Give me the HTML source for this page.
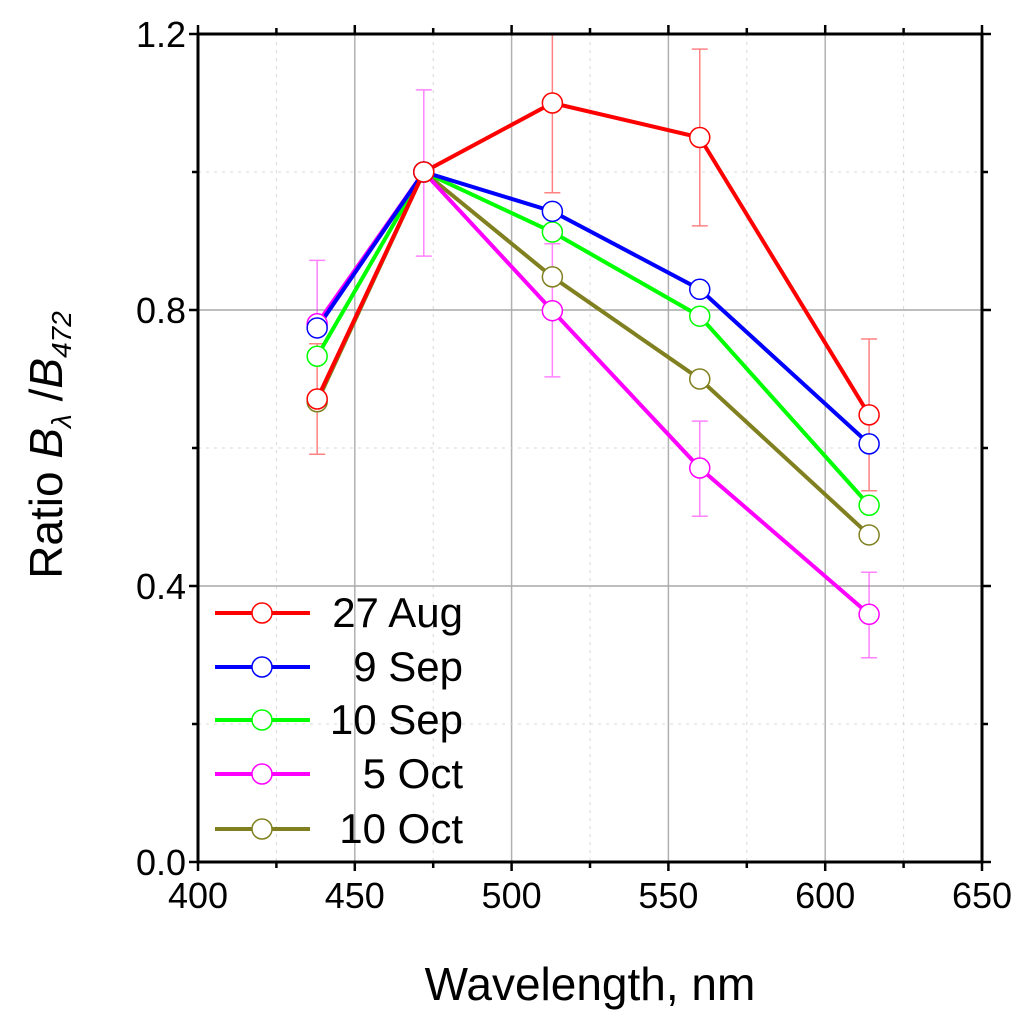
<!DOCTYPE html>
<html><head><meta charset="utf-8"><style>
body{margin:0;background:#fff}
svg{display:block;font-family:"Liberation Sans",Arial,sans-serif}
</style></head><body>
<svg id="chart" width="1033" height="1024" viewBox="0 0 1033 1024" xmlns="http://www.w3.org/2000/svg">
<g id="grid"></g>
<g id="series"></g>
<g id="axes"></g>
<g id="legend"></g>
<text x="590" y="1000" font-size="46" text-anchor="middle" fill="#000">Wavelength, nm</text>
<text transform="translate(62,445) rotate(-90)" font-size="46" text-anchor="middle" fill="#000">Ratio <tspan font-style="italic">B</tspan><tspan font-size="28" dy="9" font-style="italic">λ</tspan><tspan dy="-9"> /</tspan><tspan font-style="italic">B</tspan><tspan font-size="28" dy="9" font-style="italic">472</tspan></text>
</svg>
<script>
const wavelengths=[438,472,513,560,614];
const seriesNames=["27 Aug","9 Sep","10 Sep","5 Oct","10 Oct"];
const seriesColors=["#ff0000","#0000ff","#00ff00","#ff00ff","#808020"];
const aug27=[0.671,1.0,1.10,1.05,0.648];
const sep9=[0.774,1.0,0.943,0.83,0.606];
const sep10=[0.733,1.0,0.913,0.791,0.517];
const oct5=[0.78,1.0,0.799,0.571,0.359];
const oct10=[0.667,1.0,0.848,0.70,0.474];
const aug27Err=[0.08,null,0.13,0.128,0.11];
const oct5ErrLow=[null,0.122,0.096,0.07,0.063];
const oct5ErrHigh=[0.092,0.119,0.097,0.068,0.061];
const xTicks=[400,450,500,550,600,650];
const yTicks=[0.0,0.4,0.8,1.2];
const yTickLabels=["0.0","0.4","0.8","1.2"];
const NS="http://www.w3.org/2000/svg";
const X0=198,X1=982,Y0=862,Y1=34;
const xs=v=>X0+(v-400)/(250)*(X1-X0);
const ys=v=>Y0-(v/1.2)*(Y0-Y1);
function mk(tag,attrs,parent){const e=document.createElementNS(NS,tag);for(const k in attrs)e.setAttribute(k,attrs[k]);parent.appendChild(e);return e;}
const grid=document.getElementById('grid'),axes=document.getElementById('axes'),ser=document.getElementById('series'),leg=document.getElementById('legend');
for(let v=425;v<650;v+=25){const major=(v%50===0);const l=mk('line',{x1:xs(v),x2:xs(v),y1:Y1,y2:Y0,stroke:major?'#b0b0b0':'#d8d8d8','stroke-width':major?1.5:1,'stroke-dasharray':major?'':'3,5'},grid);
}
for(let i=1;i<6;i++){const v=i*0.2;const major=(i%2===0);const l=mk('line',{x1:X0,x2:X1,y1:ys(v),y2:ys(v),stroke:major?'#a8a8a8':'#d8d8d8','stroke-width':major?1.5:1,'stroke-dasharray':major?'':'3,5'},grid);
}
const fr=mk('rect',{x:X0,y:Y1,width:X1-X0,height:Y0-Y1,fill:'none',stroke:'#000','stroke-width':3},axes);

for(let v=400;v<=650;v+=25){const major=(v%50===0);const len=major?9:6;
mk('line',{x1:xs(v),x2:xs(v),y1:Y0,y2:Y0+len,stroke:'#000','stroke-width':2.5},axes);
mk('line',{x1:xs(v),x2:xs(v),y1:Y1,y2:Y1-len,stroke:'#000','stroke-width':2.5},axes);}
for(let i=0;i<=6;i++){const v=i*0.2;const len=(i%2===0)?9:6;
mk('line',{x1:X0,x2:X0-len,y1:ys(v),y2:ys(v),stroke:'#000','stroke-width':2.5},axes);
mk('line',{x1:X1,x2:X1+len,y1:ys(v),y2:ys(v),stroke:'#000','stroke-width':2.5},axes);}
xTicks.forEach(v=>{const t=mk('text',{x:xs(v),y:Y0+46,'font-size':36,'text-anchor':'middle'},axes);t.textContent=v;
});
yTicks.forEach((v,i)=>{const t=mk('text',{x:X0-12,y:ys(v)+13,'font-size':36,'text-anchor':'end'},axes);t.textContent=yTickLabels[i];
});
function errbar(x,lo,hi,color,name){const g=mk('g',{stroke:color,'stroke-width':1.5,opacity:0.6},ser);

const yt=Math.max(ys(hi),Y1),yb=ys(lo);mk('line',{x1:x,x2:x,y1:yt,y2:yb},g);
if(ys(hi)>=Y1)mk('line',{x1:x-8,x2:x+8,y1:yt,y2:yt},g);mk('line',{x1:x-8,x2:x+8,y1:yb,y2:yb},g);}
wavelengths.forEach((w,i)=>{if(aug27Err[i]!=null)errbar(xs(w),aug27[i]-aug27Err[i],aug27[i]+aug27Err[i],'#ff3030','error-bar-27-aug');
if(oct5ErrHigh[i]!=null)errbar(xs(w),oct5[i]-(oct5ErrLow[i]!=null?oct5ErrLow[i]:0),oct5[i]+oct5ErrHigh[i],'#ff30ff','error-bar-5-oct');});
const all=[aug27,sep9,sep10,oct5,oct10];
const order=[4,3,2,1,0];
order.forEach(s=>{const vals=all[s];const pts=wavelengths.map((w,i)=>xs(w)+','+ys(vals[i])).join(' ');
const pl=mk('polyline',{points:pts,fill:'none',stroke:seriesColors[s],'stroke-width':4},ser);
});
order.forEach(s=>{const vals=all[s];wavelengths.forEach((w,i)=>{const c=mk('circle',{cx:xs(w),cy:ys(vals[i]),r:10,fill:'#fff',stroke:seriesColors[s],'stroke-width':1.5},ser);
});});
const legY=[613,667,720,774,829];
seriesNames.forEach((n,i)=>{const g=mk('g',{},leg);
mk('line',{x1:215,x2:310,y1:legY[i],y2:legY[i],stroke:seriesColors[i],'stroke-width':4},g);
mk('circle',{cx:262,cy:legY[i],r:10,fill:'#fff',stroke:seriesColors[i],'stroke-width':1.5},g);
const t=mk('text',{x:463,y:legY[i]+14,'font-size':42,'text-anchor':'end'},g);t.textContent=n;});
</script>
</body></html>
